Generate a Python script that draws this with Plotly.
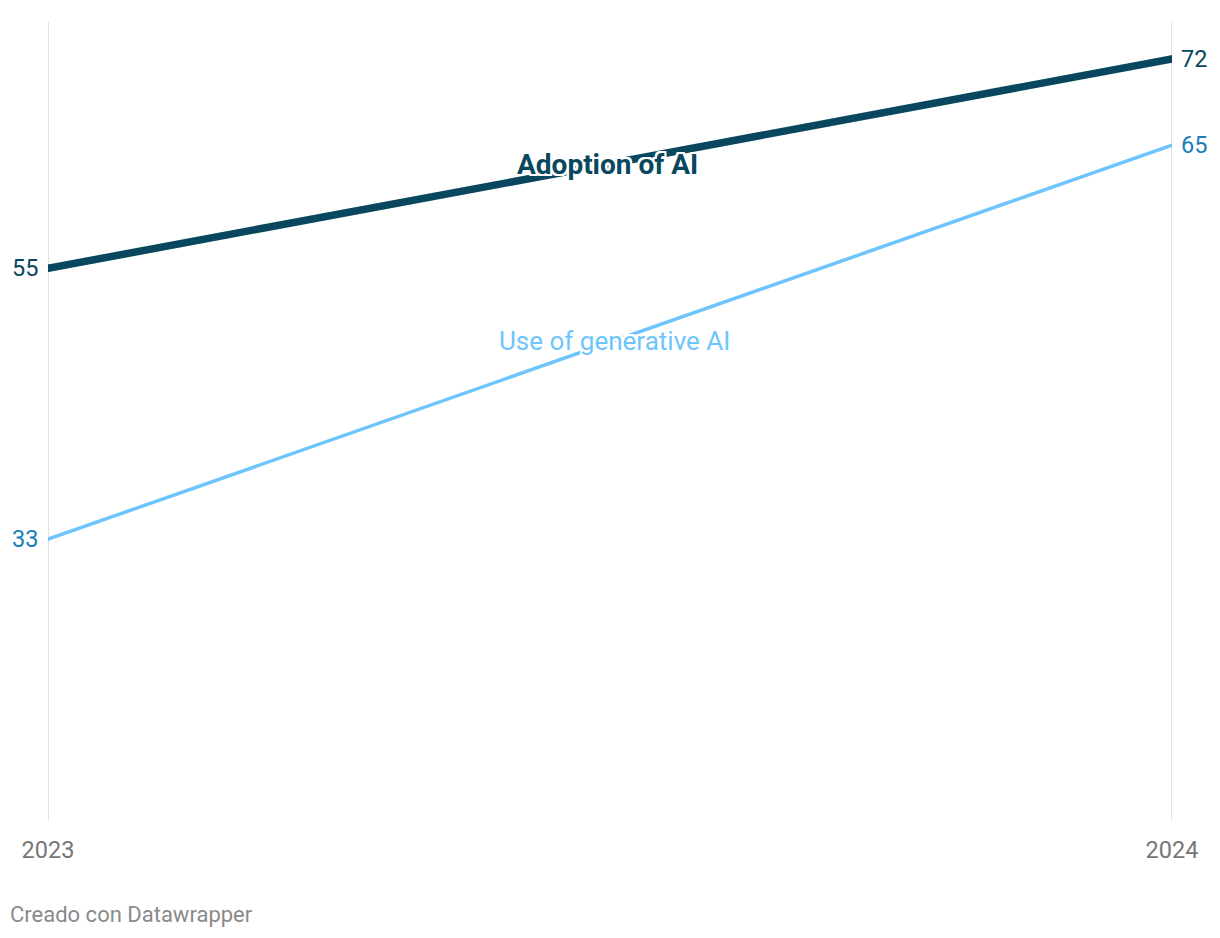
import plotly.graph_objects as go

years = [2023, 2024]
year_labels = ["2023", "2024"]
adoption = [55, 72]
generative = [33, 65]
series_names = ["Adoption of AI", "Use of generative AI"]

DARK = "#08475e"
LIGHT = "#6ec5fd"
LIGHT_TXT = "#1a7fb9"
HALO = ("white 2px 0px 0px, white -2px 0px 0px, white 0px 2px 0px, white 0px -2px 0px, "
        "white 2px 2px 0px, white -2px -2px 0px, white 2px -2px 0px, white -2px 2px 0px")

fig = go.Figure()
fig.add_trace(go.Scatter(x=years, y=generative, mode="lines+markers",
                         line=dict(color=LIGHT, width=3.5),
                         marker=dict(color=LIGHT, size=3.5, line=dict(width=0)),
                         hoverinfo="skip", showlegend=False))
fig.add_trace(go.Scatter(x=years, y=adoption, mode="lines+markers",
                         line=dict(color=DARK, width=7.5),
                         marker=dict(color=DARK, size=7.5, line=dict(width=0)),
                         hoverinfo="skip", showlegend=False))

shapes = [dict(type="line", xref="x", yref="paper", x0=yr, x1=yr, y0=0, y1=1,
               line=dict(color="#dadada", width=1.5), layer="below") for yr in years]

ann = []
for vals, col in [(adoption, DARK), (generative, LIGHT_TXT)]:
    ann.append(dict(x=years[0], y=vals[0], text=str(vals[0]), showarrow=False,
                    xanchor="right", xshift=-8, font=dict(family="Roboto", size=23.5, color=col)))
    ann.append(dict(x=years[1], y=vals[1], text=str(vals[1]), showarrow=False,
                    xanchor="left", xshift=7, font=dict(family="Roboto", size=23.5, color=col)))
ann.append(dict(x=2023.498, y=63.4, text="<b>" + series_names[0] + "</b>", showarrow=False,
                font=dict(family="Roboto", size=28, color=DARK, shadow=HALO)))
ann.append(dict(x=2023.504, y=49.1, text=series_names[1], showarrow=False,
                font=dict(family="Roboto", size=26, color=LIGHT, shadow=HALO)))
ann.append(dict(xref="paper", yref="paper", x=-0.0356, y=-0.1188, xanchor="left", yanchor="middle",
                text="Creado con Datawrapper", showarrow=False,
                font=dict(family="Roboto", size=22, color="#8a8a8a")))

fig.update_layout(
    width=1220, height=938,
    margin=dict(l=48, r=48, t=22, b=118),
    paper_bgcolor="white", plot_bgcolor="white",
    annotations=ann, shapes=shapes,
    xaxis=dict(range=[years[0], years[-1]], tickvals=years, ticktext=year_labels,
               showgrid=False, zeroline=False, showline=False, ticks="", ticklabelstandoff=13,
               tickfont=dict(family="Roboto", size=23.5, color="#777777")),
    yaxis=dict(range=[10.2, 75], showgrid=False, zeroline=False, showticklabels=False,
               showline=False, ticks=""),
)

fig.write_html("out.html", config={"displayModeBar": False},
               post_script="document.body.style.margin='0';")
